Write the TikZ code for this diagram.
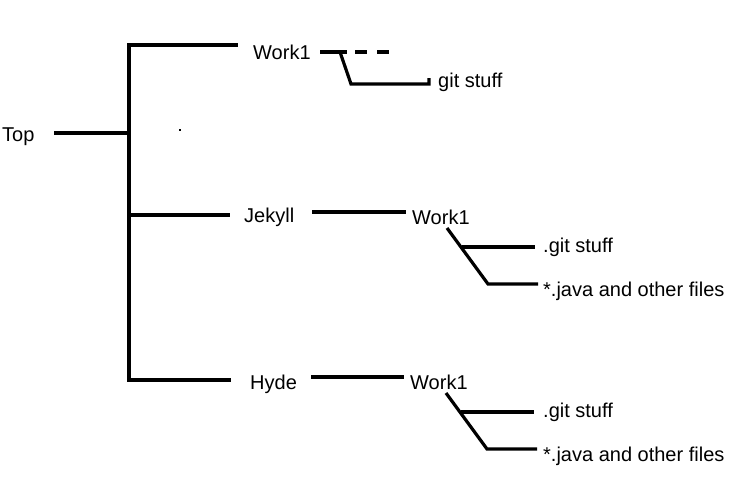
\documentclass[tikz,border=0pt]{standalone}
\usepackage{fontspec}
\setmainfont{Liberation Sans}
\begin{document}
\begin{tikzpicture}[x=1pt,y=-1pt,
  lbl/.style={anchor=base west,inner sep=0pt,font=\fontsize{20}{23}\selectfont},
  wire/.style={line width=3.2pt,line cap=butt,line join=miter}]
\useasboundingbox[fill=white] (0,0) rectangle (751,496);
% labels
\node[lbl] (top) at (2,141) {Top};
\node[lbl] (w0) at (253,59) {Work1};
\node[lbl] (g0) at (438,87) {git stuff};
\node[lbl] (jek) at (244,222) {Jekyll};
\node[lbl] (w1) at (412,224) {Work1};
\node[lbl] (g1) at (543,252) {.git stuff};
\node[lbl] (j1) at (543,296) {*.java and other files};
\node[lbl] (hyd) at (250,389) {Hyde};
\node[lbl] (w2) at (410,389) {Work1};
\node[lbl] (g2) at (543,417) {.git stuff};
\node[lbl] (j2) at (543,461) {*.java and other files};
% coordinates
\coordinate (topR) at (54,133);
\coordinate (trunk) at (127,133);
\coordinate (vT) at (129,45);
\coordinate (vB) at (129,381.5);
\coordinate (b0) at (238,45);
\coordinate (vJ) at (129,215);
\coordinate (b1) at (230,215);
\coordinate (vH) at (129,380);
\coordinate (b2) at (231,380);
% top
\draw[wire] (topR) -- (trunk);
\draw[wire] ([yshift=1.6pt]vT) -- (vB);
\draw[wire] ([xshift=-1.6pt]vT) -- (b0);
\draw[wire] (vJ) -- (b1);
\draw[wire] ([xshift=-1.6pt]vH) -- (b2);
% top Work1
\coordinate (w0a) at (320,52);
\coordinate (w0b) at (347,52);
\coordinate (w0k) at (340,52);
\coordinate (w0c) at (351,84);
\coordinate (w0d) at (429,84);
\coordinate (w0e) at (429,78);
\coordinate (d1a) at (355,52);
\coordinate (d1b) at (367,52);
\coordinate (d2a) at (377,52);
\coordinate (d2b) at (389,52);
\draw[wire] (w0a) -- (w0b);
\draw[wire] (d1a) -- (d1b);
\draw[wire] (d2a) -- (d2b);
\draw[wire] (w0k) -- (w0c) -- (w0d) -- (w0e);
% Jekyll
\coordinate (j1a) at (312,212);
\coordinate (j1b) at (406,212);
\coordinate (j1c) at (447,228);
\coordinate (j1d) at (488,284);
\coordinate (j1e) at (462,247);
\coordinate (j1f) at (535,247);
\coordinate (j1g) at (538,284);
\draw[wire] (j1a) -- (j1b);
\draw[wire] (j1c) -- (j1d) -- (j1g);
\draw[wire] (j1e) -- (j1f);
% Hyde
\coordinate (h1a) at (311,377);
\coordinate (h1b) at (404,377);
\coordinate (h1c) at (446,393);
\coordinate (h1d) at (487,449);
\coordinate (h1e) at (461,412);
\coordinate (h1f) at (534,412);
\coordinate (h1g) at (537,449);
\draw[wire] (h1a) -- (h1b);
\draw[wire] (h1c) -- (h1d) -- (h1g);
\draw[wire] (h1e) -- (h1f);
% stray dot
\fill (179,129) rectangle (181,131);
\end{tikzpicture}
\end{document}
